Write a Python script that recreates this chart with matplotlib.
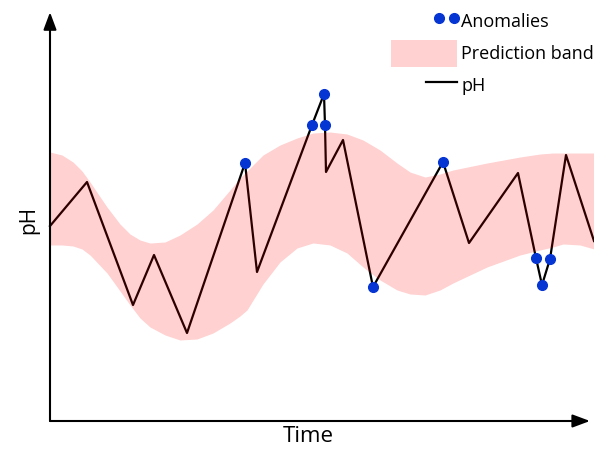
import matplotlib

matplotlib.use('Agg')
import matplotlib.pyplot as plt
from matplotlib.legend_handler import HandlerLine2D
from matplotlib.lines import Line2D
from matplotlib.patches import Patch

plt.rcParams['font.family'] = ['Open Sans', 'DejaVu Sans']

# measured pH series
time = [0, 3.7, 8.3, 10.4, 13.7, 19.5, 20.7, 26.2, 27.4, 27.5, 27.6, 29.3,
        32.3, 39.3, 41.9, 46.8, 48.6, 49.2, 50.0, 51.6, 54.4]
ph = [7.95, 8.39, 7.16, 7.66, 6.88, 8.58, 7.49, 8.96, 9.27, 8.96, 8.49, 8.81,
      7.34, 8.59, 7.78, 8.48, 7.63, 7.36, 7.62, 8.66, 7.80]
anomaly_idx = [5, 7, 8, 9, 12, 13, 16, 17, 18]

# prediction band
band_t = [0, 1.2, 2.3, 3.2, 4.0, 5.7, 7.0, 8.0, 9.0, 10.0, 11.5, 13.0, 14.7,
          16.3, 18.0, 19.0, 19.7, 21.3, 23.0, 24.7, 26.3, 28.0, 29.7, 31.3,
          33.0, 34.7, 36.0, 37.5, 39.0, 40.3, 43.7, 47.0, 49.0, 50.3, 51.3,
          53.0, 54.4]
band_hi = [8.69, 8.66, 8.59, 8.50, 8.39, 8.14, 7.97, 7.87, 7.81, 7.78, 7.79,
           7.86, 7.97, 8.11, 8.31, 8.43, 8.50, 8.66, 8.76, 8.83, 8.88, 8.89,
           8.87, 8.81, 8.71, 8.58, 8.49, 8.44, 8.47, 8.51, 8.58, 8.64, 8.67,
           8.68, 8.68, 8.68, 8.68]
band_lo = [7.76, 7.76, 7.75, 7.72, 7.66, 7.48, 7.30, 7.16, 7.03, 6.94, 6.86,
           6.81, 6.82, 6.88, 6.98, 7.05, 7.11, 7.37, 7.59, 7.73, 7.78, 7.76,
           7.68, 7.54, 7.41, 7.31, 7.27, 7.26, 7.31, 7.38, 7.54, 7.66, 7.71,
           7.74, 7.77, 7.76, 7.72]


class RightHandler(HandlerLine2D):
    # draw the handle only in the right part of the handle box
    def __init__(self, frac, **kw):
        super().__init__(**kw)
        self.frac = frac

    def create_artists(self, legend, orig_handle, xdescent, ydescent, width,
                       height, fontsize, trans):
        w = width * self.frac
        return super().create_artists(legend, orig_handle, xdescent - (width - w),
                                      ydescent, w, height, fontsize, trans)


fig = plt.figure(figsize=(5.94, 4.51), dpi=100)
ax = fig.add_axes([50 / 594, 30 / 451, 544 / 594, 421 / 451])

ax.plot(time, ph, color='black', lw=1.6, zorder=2, clip_on=False)
ax.fill_between(band_t, band_lo, band_hi, color='red', alpha=0.18, lw=0, zorder=3)
ax.plot([time[i] for i in anomaly_idx], [ph[i] for i in anomaly_idx], 'o',
        color='#0535d2', ms=7, zorder=4, clip_on=False)

ax.set_xlim(0, 54.4)
ax.set_ylim(6.0, 10.21)
ax.set_xticks([])
ax.set_yticks([])
for s in ax.spines.values():
    s.set_visible(False)

arrow = dict(arrowstyle='-|>,head_length=0.75,head_width=0.28', lw=1.5,
             color='black', shrinkA=0, shrinkB=0, mutation_scale=14)
ax.annotate('', xy=(0, 0.971), xytext=(0, 0), xycoords='axes fraction',
            arrowprops=arrow)
ax.annotate('', xy=(0.9926, 0), xytext=(0, 0), xycoords='axes fraction',
            arrowprops=arrow)

ax.set_xlabel('Time', fontsize=16)
ax.xaxis.set_label_coords(0.474, -0.036)
ax.xaxis.label.set_verticalalignment('center')
ax.set_ylabel('pH', fontsize=15)
ax.yaxis.set_label_coords(-0.039, 0.477)
ax.yaxis.label.set_verticalalignment('center')

h_anom = Line2D([], [], ls='none', marker='o', color='#0535d2', ms=7)
h_band = Patch(facecolor='red', alpha=0.18, lw=0)
h_line = Line2D([], [], color='black', lw=1.6)
ax.legend([h_anom, h_band, h_line], ['Anomalies', 'Prediction band', 'pH'],
          loc='upper right', bbox_to_anchor=(1, 1 - 8 / 451),
          bbox_transform=fig.transFigure, frameon=False, fontsize=13,
          handlelength=3.65, handleheight=1.92, labelspacing=0.28,
          handletextpad=0.22, borderpad=0, borderaxespad=0,
          handler_map={h_anom: RightHandler(0.32, numpoints=2, marker_pad=0.17),
                       h_line: RightHandler(0.47)})

fig.savefig('out.png', dpi=100)
